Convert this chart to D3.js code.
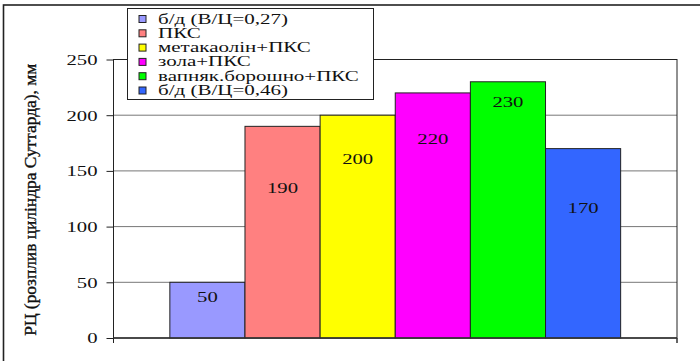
<!DOCTYPE html>
<html>
<head>
<meta charset="utf-8">
<style>
    body { margin: 0; background: white; }
    svg text { font-family: "Liberation Serif", "DejaVu Serif", serif; fill: #111; }
    .grid line { stroke: #777; stroke-width: 1; }
</style>
</head>
<body>
<div id="chart"></div>
<script src="https://cdn.jsdelivr.net/npm/d3@7"></script>
<script>

//////////////////// data ////////////////////
let series = ['б/д (В/Ц=0,27)', 'ПКС', 'метакаолін+ПКС', 'зола+ПКС', 'вапняк.борошно+ПКС', 'б/д (В/Ц=0,46)'];
let values = [50, 190, 200, 220, 230, 170];
let colors = ['#9999FF', '#FF8080', '#FFFF00', '#FF00FF', '#00FF00', '#3366FF'];
// where excel placed each value label (in axis units)
let labelAt = [37, 135, 161, 178.5, 212, 117];
let yTicks = [0, 50, 100, 150, 200, 250];
let yTitle = 'РЦ (розплив циліндра Суттарда), мм';

//////////////////// layout ////////////////////
let W = 700, H = 361;
let plot = { left: 113.5, right: 677, top: 59.5, bottom: 338 };
let SERIF = '"Liberation Serif", "DejaVu Serif", serif';

let svg = d3.select('#chart').append('svg')
    .attr('width', W)
    .attr('height', H);

// the original picture is stretched horizontally, so stretch the text too
function stretch(k) {
    return function(sel) {
        sel.attr('font-family', SERIF).each(function() {
            let len = this.getComputedTextLength();
            d3.select(this)
                .attr('textLength', len * k)
                .attr('lengthAdjust', 'spacingAndGlyphs');
        });
    };
}

// outer frame
svg.append('rect')
    .attr('x', 3.5).attr('y', 5)
    .attr('width', W + 10).attr('height', H + 10)
    .attr('fill', 'white')
    .attr('stroke', '#222')
    .attr('stroke-width', 1.6);

let x = d3.scaleBand()
    .domain(series)
    .range([plot.left, plot.right])
    .paddingInner(0)
    .paddingOuter(0.75);

let y = d3.scaleLinear()
    .domain([0, 250])
    .range([plot.bottom, plot.top]);

// grid
svg.append('g')
    .classed('grid', true)
    .selectAll('line')
    .data(yTicks.filter(d => d > 0 && d < 250))
    .join('line')
    .attr('x1', plot.left).attr('x2', plot.right)
    .attr('y1', d => y(d)).attr('y2', d => y(d));

// plot border
svg.append('rect')
    .attr('x', plot.left).attr('y', plot.top)
    .attr('width', plot.right - plot.left)
    .attr('height', plot.bottom - plot.top)
    .attr('fill', 'none')
    .attr('stroke', '#222')
    .attr('stroke-width', 1);

// bars
svg.append('g')
    .selectAll('rect')
    .data(values)
    .join('rect')
    .attr('x', (d, i) => x(series[i]))
    .attr('y', d => y(d))
    .attr('width', x.bandwidth())
    .attr('height', d => y(0) - y(d))
    .attr('fill', (d, i) => colors[i])
    .attr('stroke', '#222')
    .attr('stroke-width', 1);

// value labels
svg.append('g')
    .selectAll('text')
    .data(values)
    .join('text')
    .attr('x', (d, i) => x(series[i]) + x.bandwidth() / 2)
    .attr('y', (d, i) => y(labelAt[i]))
    .attr('dy', '0.35em')
    .attr('text-anchor', 'middle')
    .attr('font-size', 15)
    .text(d => d)
    .call(stretch(1.38));

// y axis
let yAxis = svg.append('g')
    .attr('transform', `translate(${plot.left}, 0)`)
    .call(d3.axisLeft(y).tickValues(yTicks).tickSize(7).tickPadding(9).tickSizeOuter(0));
yAxis.attr('font-family', SERIF);
yAxis.select('.domain').attr('stroke', '#222').attr('d', `M0,${plot.top}V${plot.bottom + 5}`);
yAxis.selectAll('.tick line').attr('stroke', '#222');
yAxis.selectAll('.tick text')
    .attr('font-size', 15)
    .attr('fill', '#111')
    .call(stretch(1.38));

// x axis line with end tick
svg.append('path')
    .attr('d', `M${plot.left},${plot.bottom}H${plot.right}M${plot.right},${plot.bottom}V${plot.bottom + 5}`)
    .attr('stroke', '#333')
    .attr('stroke-width', 1.5)
    .attr('fill', 'none');

// y title
svg.append('text')
    .attr('transform', `translate(36, ${(plot.top + plot.bottom) / 2 + 1}) scale(1.4, 1) rotate(-90)`)
    .attr('text-anchor', 'middle')
    .attr('font-family', SERIF)
    .attr('font-size', 12.5)
    .attr('stroke', '#111')
    .attr('stroke-width', 0.25)
    .attr('textLength', 272)
    .attr('lengthAdjust', 'spacingAndGlyphs')
    .text(yTitle);

// legend
let legend = svg.append('g');
legend.append('rect')
    .attr('x', 127.5).attr('y', 8.5)
    .attr('width', 246).attr('height', 91)
    .attr('fill', 'white')
    .attr('stroke', '#222')
    .attr('stroke-width', 1);

let items = legend.selectAll('g.item')
    .data(series)
    .join('g')
    .classed('item', true)
    .attr('transform', (d, i) => `translate(139, ${19 + i * 14.3})`);
items.append('rect')
    .attr('x', 0).attr('y', -3.5)
    .attr('width', 7).attr('height', 7)
    .attr('fill', (d, i) => colors[i])
    .attr('stroke', '#222')
    .attr('stroke-width', 1);
items.append('text')
    .attr('x', 19).attr('y', 4.5)
    .attr('font-size', 14)
    .text(d => d)
    .call(stretch(1.5));

</script>
</body>
</html>
